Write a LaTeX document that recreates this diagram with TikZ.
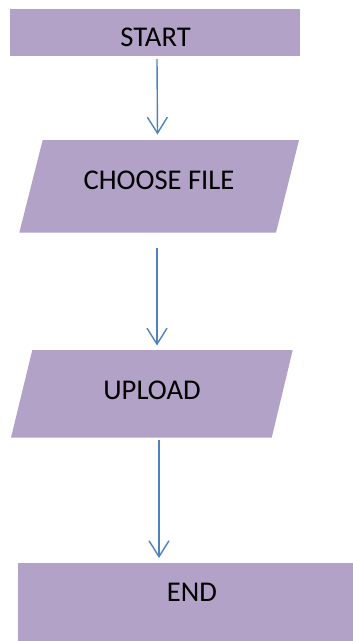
\documentclass[tikz,border=0pt]{standalone}
\usepackage{fontspec}
\setmainfont{Carlito}
\usetikzlibrary{arrows.meta}
\definecolor{boxfill}{HTML}{B2A2C7}
\definecolor{arrowblue}{HTML}{4F81BD}
\begin{document}
\begin{tikzpicture}[x=1pt,y=-1pt,
  shapefill/.style={fill=boxfill},
  lbl/.style={inner sep=0pt,font=\fontsize{28.6}{34}\selectfont,text=black},
  arr/.style={draw=arrowblue,line width=1.4pt,-{Straight Barb[length=16pt,width=20pt,line width=1.4pt]}}]
\useasboundingbox (0,0) rectangle (353,641);
% START
\fill[shapefill] (10,9) rectangle (300,55.7);
\node[lbl] (start) at (155.5,37.5) {START};
% CHOOSE FILE
\fill[shapefill] (42.7,140) -- (299,140) -- (276,232.7) -- (19.3,232.7) -- cycle;
\node[lbl] (choose) at (159,180.5) {CHOOSE FILE};
% UPLOAD
\fill[shapefill] (32.3,350) -- (292.7,350) -- (271.7,437.7) -- (11,437.7) -- cycle;
\node[lbl] (upload) at (152,390) {UPLOAD};
% END
\fill[shapefill] (18.3,563.3) rectangle (353,641);
\node[lbl] (endn) at (192,592.5) {END};
% connectors
\coordinate (a1s) at (157,59);
\coordinate (a1e) at (157.5,134.5);
\coordinate (a2s) at (157,248);
\coordinate (a2e) at (157,345.5);
\coordinate (a3s) at (159,440);
\coordinate (a3e) at (159,558);
\draw[arr] (a1s) -- (a1e);
\draw[arr] (a2s) -- (a2e);
\draw[arr] (a3s) -- (a3e);
\end{tikzpicture}
\end{document}
